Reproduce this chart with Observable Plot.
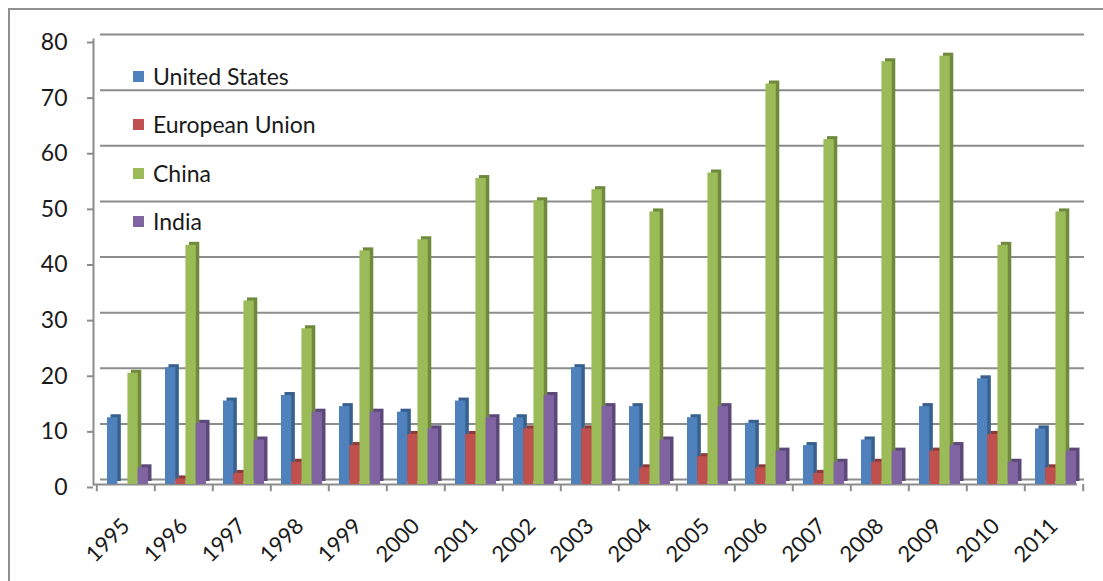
<!DOCTYPE html>
<html>
<head>
<meta charset="utf-8">
<script src="https://cdn.jsdelivr.net/npm/d3@7"></script>
<script src="https://cdn.jsdelivr.net/npm/@observablehq/plot@0.6"></script>
<style>
  html, body { margin: 0; padding: 0; background: #fff; }
  #wrap { position: relative; width: 1103px; height: 581px; overflow: hidden; font-family: Lato, "Open Sans", sans-serif; }
  #border { position: absolute; left: 8px; top: 8px; right: 0; bottom: -10px; border-left: 2px solid #8f8f8f; border-top: 2px solid #8f8f8f; pointer-events: none; }
  #legend { position: absolute; left: 133px; top: 52px; font-size: 23px; color: #1a1a1a; }
  #legend .item { display: flex; align-items: center; height: 48.5px; line-height: 1; }
  #legend .sw { width: 11px; height: 11px; margin-right: 9px; }
</style>
</head>
<body>
<div id="wrap">
  <div id="chart"></div>
  <div id="border"></div>
  <div id="legend"></div>
</div>
<script>
const years = ["1995","1996","1997","1998","1999","2000","2001","2002","2003","2004","2005","2006","2007","2008","2009","2010","2011"];
const seriesNames = ["United States", "European Union", "China", "India"];
const unitedStates = [12, 21, 15, 16, 14, 13, 15, 12, 21, 14, 12, 11, 7, 8, 14, 19, 10];
const europeanUnion = [0, 1, 2, 4, 7, 9, 9, 10, 10, 3, 5, 3, 2, 4, 6, 9, 3];
const china = [20, 43, 33, 28, 42, 44, 55, 51, 53, 49, 56, 72, 62, 76, 77, 43, 49];
const india = [3, 11, 8, 13, 13, 10, 12, 16, 14, 8, 14, 6, 4, 6, 7, 4, 6];
const yTicks = [0, 10, 20, 30, 40, 50, 60, 70, 80];

const colors = ["#4F81BD", "#C0504D", "#9BBB59", "#8064A2"];
const sideColors = ["#37608F", "#8E3A38", "#6F8A3C", "#5C4879"];

const seriesValues = [unitedStates, europeanUnion, china, india];
const rows = [];
seriesNames.forEach((s, i) => years.forEach((y, j) => rows.push({year: y, series: s, value: seriesValues[i][j]})));

const W = 1103, H = 581, mL = 93, mR = 17, mT = 39, mB = 97;
const step = (W - mL - mR) / years.length;
const pIn = 0.3, pOut = 0.15;
const bw = step * (1 - pIn);
const slot = bw / 4;
const faceW = slot;
const grid = "#8c8c8c";

const barMarks = [];
seriesNames.forEach((s, i) => {
  const data = rows.filter(r => r.series === s && r.value > 0);
  const insetLeft = i * slot;
  const insetRight = bw - insetLeft - faceW;
  barMarks.push(Plot.barY(data, {x: "year", y: "value", fill: sideColors[i], insetLeft, insetRight, dx: 5.5, dy: -3}));
  barMarks.push(Plot.barY(data, {x: "year", y: "value", fill: colors[i], insetLeft, insetRight, dx: 2}));
});

const chart = Plot.plot({
  width: W, height: H,
  marginLeft: mL, marginRight: mR, marginTop: mT, marginBottom: mB,
  style: {fontFamily: "Lato, 'Open Sans', sans-serif", background: "transparent"},
  x: {type: "band", domain: years, paddingInner: pIn, paddingOuter: pOut, axis: null},
  y: {domain: [0, 80], axis: null},
  marks: [
    Plot.ruleY(yTicks, {y: d => d, stroke: grid, strokeWidth: 2, dy: -5, insetLeft: 7, insetRight: 2}),
    Plot.ruleY([0], {y: d => d, stroke: grid, strokeWidth: 2, insetRight: 9}),
    Plot.frame({anchor: "left", stroke: grid, strokeWidth: 2}),
    Plot.ruleX(years, {x: d => d, y1: 0, y2: -1.3, dx: -step / 2, stroke: grid, strokeWidth: 2}),
    Plot.ruleX([years[years.length - 1]], {x: d => d, y1: 0, y2: -1.3, dx: step / 2, stroke: grid, strokeWidth: 2}),
    ...barMarks,
    Plot.axisY({ticks: yTicks, label: null, tickSize: 6, tickPadding: 20, fontSize: 23, stroke: grid, strokeWidth: 2, fill: "#1a1a1a", dy: 3}),
    Plot.text(years, {x: d => d, frameAnchor: "bottom", rotate: -45, textAnchor: "end", lineAnchor: "middle", dx: 0, dy: 38, fontSize: 22, fill: "#1a1a1a"})
  ]
});
document.getElementById("chart").appendChild(chart);

const legend = document.getElementById("legend");
seriesNames.forEach((s, i) => {
  const item = document.createElement("div");
  item.className = "item";
  const sw = document.createElement("span");
  sw.className = "sw";
  sw.style.background = colors[i];
  const t = document.createElement("span");
  t.textContent = s;
  item.appendChild(sw); item.appendChild(t);
  legend.appendChild(item);
});
</script>
</body>
</html>
